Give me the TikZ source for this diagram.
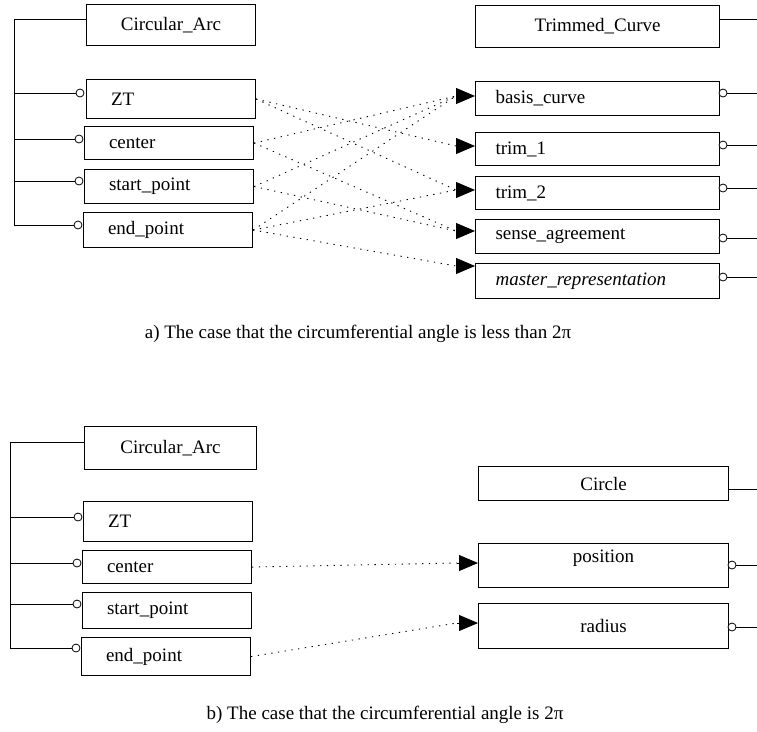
\documentclass[tikz,border=0pt]{standalone}
\usepackage{fontspec}
\setmainfont{Liberation Serif}
\usetikzlibrary{arrows.meta}

\begin{document}
\begin{tikzpicture}[x=1pt, y=-1pt, font=\fontsize{19}{22}\selectfont,
	ent/.style={draw, line width=1.1pt, anchor=north west, inner ysep=0pt, inner xsep=0pt},
	attl/.style={ent, minimum width=169pt, text width=120pt, inner xsep=24.5pt, align=left},
	attr/.style={ent, minimum width=244pt, text width=204pt, inner xsep=20pt, align=left},
	ring/.style={draw, circle, line width=0.8pt, fill=white, inner sep=0pt, minimum size=8pt},
	head/.style={-{Triangle[length=19pt, width=16pt]}, line width=0.8pt},
	link/.style={line width=0.9pt, dash pattern=on 1.3pt off 5.5pt}]
	\useasboundingbox (0,0) rectangle (757,731);
	\coordinate (edge) at (757,0);

	% a) less than 2pi
	\node[ent, minimum width=169pt, minimum height=41pt] (arcA) at (86,4) {Circular\_Arc};
	\node[attl, minimum height=39pt] (ztA) at (86,79) {ZT};
	\node[attl, minimum height=33pt] (cenA) at (84,126) {center};
	\node[attl, minimum height=34pt] (staA) at (84,169) {start\_point};
	\node[attl, minimum height=35pt] (endA) at (83,212) {end\_point};

	\coordinate (topA) at (14,19);
	\draw[line width=0.8pt] (arcA.west |- topA) -- (topA) -- (14,225);
	\node[ring] (rzA) at (80,93) {};
	\node[ring] (rcA) at (79,139) {};
	\node[ring] (rsA) at (79,181) {};
	\node[ring] (reA) at (78,225) {};
	\foreach \r in {rzA,rcA,rsA,reA}
		\draw[line width=0.8pt] (\r.west) -- (topA |- \r);

	\node[ent, minimum width=244pt, minimum height=42pt] (trimA) at (475,5) {Trimmed\_Curve};
	\node[attr, minimum height=34pt] (basis) at (475,81) {basis\_curve};
	\node[attr, minimum height=33pt] (trimone) at (475,132) {trim\_1};
	\node[attr, minimum height=33pt] (trimtwo) at (475,176) {trim\_2};
	\node[attr, minimum height=34pt] (sense) at (475,219) {sense\_agreement};
	\node[attr, minimum height=35pt] (master) at (475,263) {\textit{master\_representation}};

	\draw[line width=0.8pt] (trimA.east |- 0,19) -- (edge |- 0,19);
	\node[ring] (rbA) at (723,93) {};
	\node[ring] (r1A) at (723,145) {};
	\node[ring] (r2A) at (723,188) {};
	\node[ring] (rgA) at (723,238) {};
	\node[ring] (rmA) at (723,277) {};
	\foreach \r in {rbA,r1A,r2A,rgA,rmA}
		\draw[line width=0.8pt] (\r.east) -- (edge |- \r);

	\coordinate (inbasis) at (456,96);
	\coordinate (inone) at (456,146);
	\coordinate (intwo) at (456,190);
	\coordinate (insense) at (456,231);
	\coordinate (inmaster) at (456,266);
	\draw[head] (inbasis) -- (inbasis -| basis.west);
	\draw[head] (inone) -- (inone -| trimone.west);
	\draw[head] (intwo) -- (intwo -| trimtwo.west);
	\draw[head] (insense) -- (insense -| sense.west);
	\draw[head] (inmaster) -- (inmaster -| master.west);

	\draw[link] (ztA.east) -- (intwo);
	\draw[link] (ztA.east) -- (inone);
	\draw[link] (cenA.east) -- (inbasis);
	\draw[link] (cenA.east) -- (insense);
	\draw[link] (staA.east) -- (inbasis);
	\draw[link] (staA.east) -- (insense);
	\draw[link] (endA.east) -- (inbasis);
	\draw[link] (endA.east) -- (intwo);
	\draw[link] (endA.east) -- (inmaster);

	\node (capA) at (358,334) {a) The case that the circumferential angle is less than 2π};

	% b) equal to 2pi
	\node[ent, minimum width=172pt, minimum height=43pt] (arcB) at (84,426) {Circular\_Arc};
	\node[attl, minimum height=40pt] (ztB) at (83,501) {ZT};
	\node[attl, minimum height=33pt] (cenB) at (82,550) {center};
	\node[attl, minimum height=36pt] (staB) at (82,592) {start\_point};
	\node[attl, minimum height=38pt] (endB) at (81,637) {end\_point};

	\coordinate (topB) at (10,442);
	\draw[line width=0.8pt] (arcB.west |- topB) -- (topB) -- (10,648);
	\node[ring] (rzB) at (78,517) {};
	\node[ring] (rcB) at (77,563) {};
	\node[ring] (rsB) at (77,604) {};
	\node[ring] (reB) at (76,648) {};
	\foreach \r in {rzB,rcB,rsB,reB}
		\draw[line width=0.8pt] (\r.west) -- (topB |- \r);

	\node[ent, minimum width=250pt, minimum height=34pt] (circB) at (478,466) {Circle};
	\node[ent, minimum width=250pt, inner ysep=7pt, text height=12pt, text depth=18pt] (posB) at (478,543) {position};
	\node[ent, minimum width=250pt, minimum height=45pt] (radB) at (478,603) {radius};

	\draw[line width=0.8pt] (circB.east |- 0,489) -- (edge |- 0,489);
	\node[ring] (rpB) at (732,565) {};
	\node[ring] (rrB) at (732,627) {};
	\foreach \r in {rpB,rrB}
		\draw[line width=0.8pt] (\r.east) -- (edge |- \r);

	\coordinate (inpos) at (457,563);
	\coordinate (inrad) at (457,623);
	\draw[head] (inpos) -- (inpos -| posB.west);
	\draw[head] (inrad) -- (inrad -| radB.west);

	\draw[link] (cenB.east) -- (inpos);
	\draw[link] (endB.east) -- (inrad);

	\node (capB) at (385,715) {b) The case that the circumferential angle is 2π};
\end{tikzpicture}
\end{document}
